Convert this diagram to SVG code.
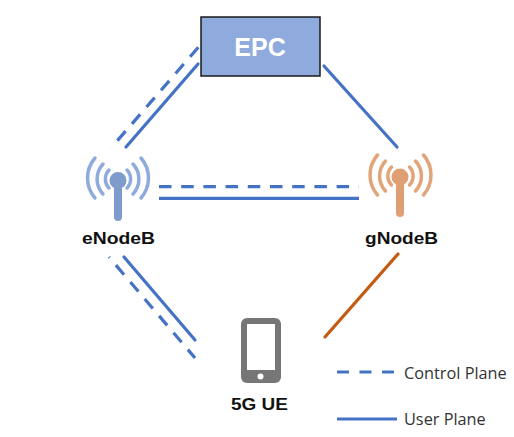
<svg xmlns="http://www.w3.org/2000/svg" width="514" height="437" viewBox="0 0 514 437">
<style>
.s{fill:none;stroke:#4472c4;stroke-width:3.2;stroke-linecap:round}
.d{stroke-dasharray:12.500 9.700;stroke-linecap:butt}
.ar{fill:none;stroke-width:3.5;stroke-linecap:round}
.lbl{font-family:"Liberation Sans",Arial,sans-serif;font-weight:bold;font-size:16.500px;fill:#111;text-anchor:middle}
.leg{font-family:"Open Sans","Liberation Sans",sans-serif;font-size:16.300px;fill:#333}
</style>
<rect width="514" height="437" fill="#fff"/>
<g id="connectors">
<path class="s" d="M198 64L126 147"/>
<path class="s d" d="M198.300 47.300L111 148"/>
<path class="s" d="M324 66L397 147"/>
<path class="s d" d="M159 186.700H359"/>
<path class="s" style="stroke-linecap:butt" d="M159 198.300H359"/>
<path class="s" d="M124 257L195 340"/>
<path class="s d" style="stroke-dashoffset:11.500" d="M109 257L195 358"/>
<path class="s" style="stroke:#c55a11" d="M398 254L325 337"/>
</g>
<g id="epc">
<rect x="201" y="17" width="119" height="59" fill="#8faadc" stroke="#1a1a1a" stroke-width="1.500"/>
<text x="260" y="56" font-family="Liberation Sans,Arial,sans-serif" font-weight="bold" font-size="25" fill="#fff" text-anchor="middle">EPC</text>
</g>
<g id="enodeb">
<g stroke="#8faadc" class="ar">
<path d="M109 170A13 13 0 0 0 109 188M127 170A13 13 0 0 1 127 188"/>
<path d="M103 164A22 22 0 0 0 103 194M133 164A22 22 0 0 1 133 194"/>
<path d="M95 158A30.500 30.500 0 0 0 95 198M141 158A30.500 30.500 0 0 1 141 198"/>
</g>
<circle cx="118" cy="180.500" r="8.500" fill="#7f9bcb"/>
<path d="M118 182V217" stroke="#7f9bcb" stroke-width="8" stroke-linecap="round"/>
<text class="lbl" x="118.500" y="244" textLength="73" lengthAdjust="spacingAndGlyphs">eNodeB</text>
</g>
<g id="gnodeb">
<g stroke="#e2a479" class="ar">
<path d="M391.500 167A13 13 0 0 0 391.500 185M409.500 167A13 13 0 0 1 409.500 185"/>
<path d="M385.500 161A22 22 0 0 0 385.500 191M415.500 161A22 22 0 0 1 415.500 191"/>
<path d="M377.500 155A30.500 30.500 0 0 0 377.500 195M423.500 155A30.500 30.500 0 0 1 423.500 195"/>
</g>
<circle cx="400" cy="177" r="8.500" fill="#df9f73"/>
<path d="M400 179V213" stroke="#df9f73" stroke-width="8" stroke-linecap="round"/>
<text class="lbl" x="401.500" y="243.500" textLength="73" lengthAdjust="spacingAndGlyphs">gNodeB</text>
</g>
<g id="ue">
<rect x="241" y="318" width="40" height="65" rx="6" fill="#767676"/>
<rect x="247" y="324" width="28" height="46" fill="#fff"/>
<circle cx="260.500" cy="376.500" r="3" fill="#fff"/>
<text class="lbl" x="259.500" y="410" textLength="57" lengthAdjust="spacingAndGlyphs">5G UE</text>
</g>
<g id="legend">
<path class="s d" d="M337 372H395" style="stroke-dasharray:12 10.500"/>
<text class="leg" x="404" y="379">Control Plane</text>
<path class="s" style="stroke-linecap:butt" d="M337 419H397"/>
<text class="leg" x="404" y="425">User Plane</text>
</g>
</svg>
